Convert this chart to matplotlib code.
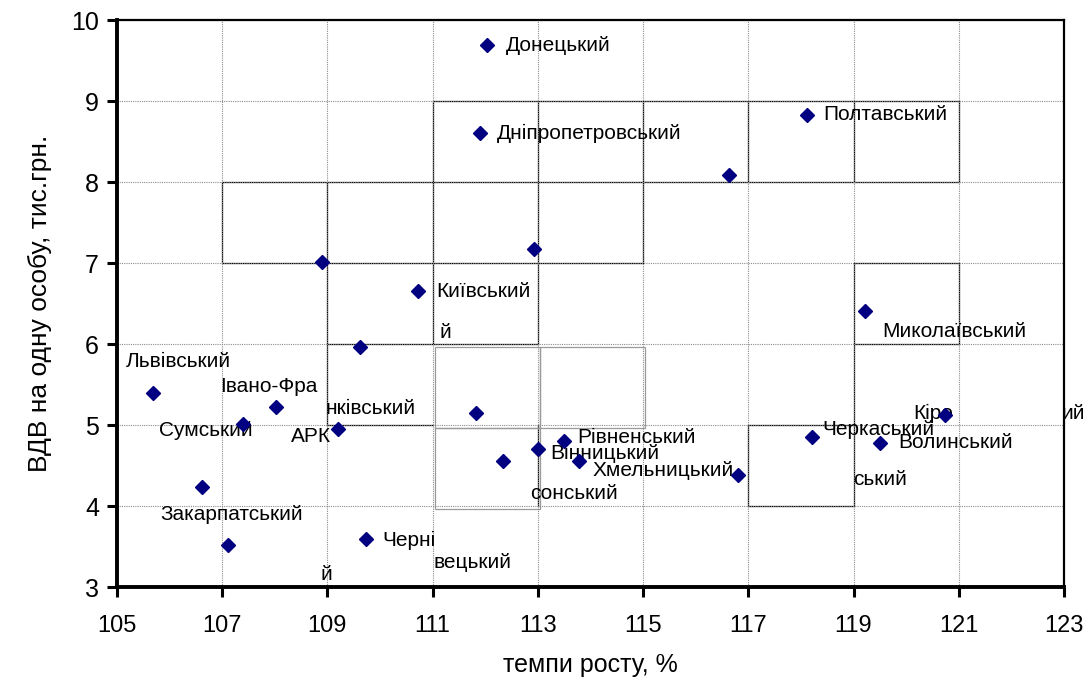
import matplotlib
matplotlib.use("Agg")
import matplotlib.pyplot as plt

plt.rcParams["font.family"] = ["Liberation Sans", "DejaVu Sans"]

# growth rate, % (x) and GRP per person, thousand UAH (y)
growth = [112.04, 111.91, 118.11, 116.63, 112.93, 108.90, 110.73, 109.62,
          119.21, 105.68, 108.03, 107.40, 109.20, 111.83, 120.73, 118.22,
          119.50, 113.50, 113.01, 112.33, 113.79, 116.81, 106.62, 107.11,
          109.74]
grp = [9.69, 8.60, 8.83, 8.09, 7.17, 7.01, 6.65, 5.96,
       6.41, 5.40, 5.22, 5.01, 4.95, 5.15, 5.12, 4.85,
       4.78, 4.80, 4.70, 4.56, 4.56, 4.38, 4.23, 3.52,
       3.59]

# label fragments as they appear in the chart: (text, x, y)
label_text = ["Донецький", "Дніпропетровський", "Полтавський", "Київський", "й",
              "Миколаївський", "Львівський", "Івано-Фра", "нківський", "Сумський",
              "АРК", "Рівненський", "Вінницький", "Хмельницький", "сонський",
              "Черкаський", "Волинський", "ський", "Кіро", "ий",
              "Закарпатський", "Черні", "вецький", "й"]
label_x = [112.40, 112.22, 118.42, 111.06, 111.14,
           119.54, 105.17, 106.96, 108.97, 105.80,
           108.31, 113.75, 113.23, 114.03, 112.85,
           118.40, 119.85, 118.99, 120.13, 122.95,
           105.82, 110.04, 111.01, 108.86]
label_y = [9.69, 8.60, 8.83, 6.65, 6.14,
           6.15, 5.79, 5.47, 5.21, 4.93,
           4.86, 4.85, 4.65, 4.44, 4.16,
           4.94, 4.78, 4.33, 5.14, 5.14,
           3.90, 3.57, 3.30, 3.16]

# solid box outlines drawn over the grid
h_lines = [(9, 111, 121), (8, 107, 121), (7, 107, 115), (7, 119, 121),
           (6, 109, 113), (6, 119, 121), (5, 109, 111), (5, 117, 119),
           (4, 117, 119)]
v_lines = [(107, 7, 8), (109, 5, 8), (111, 6, 9), (113, 6, 9), (113, 4, 5),
           (115, 7, 9), (117, 8, 9), (117, 4, 5), (119, 8, 9), (119, 4, 7),
           (121, 8, 9), (121, 6, 7)]
# light grey boxes (slightly offset)
light_boxes = [(111, 5, 2, 1), (113, 5, 2, 1), (111, 4, 2, 1)]

fig = plt.figure(figsize=(10.89, 6.86), dpi=100)
ax = fig.add_axes([0.1074, 0.1443, 0.8696, 0.8265])

ax.set_xlim(105, 123)
ax.set_ylim(3, 10)
ax.set_xticks(range(105, 124, 2))
ax.set_yticks(range(3, 11))

ax.grid(True, color="#8c8c8c", linestyle=(0, (1, 1)), linewidth=0.8, zorder=0)

for y, x0, x1 in h_lines:
    ax.plot([x0, x1], [y, y], color="black", linewidth=0.9, zorder=1)
for x, y0, y1 in v_lines:
    ax.plot([x, x], [y0, y1], color="black", linewidth=0.9, zorder=1)
for x0, y0, w, h in light_boxes:
    ax.add_patch(plt.Rectangle((x0 + 0.04, y0 - 0.04), w, h, fill=False,
                               edgecolor="#9a9a9a", linewidth=0.9, zorder=1))

ax.plot(growth, grp, linestyle="none", marker="D", markersize=7,
        color="#000080", zorder=4)

for t, x, y in zip(label_text, label_x, label_y):
    ax.text(x, y, t, ha="left", va="center", fontsize=15, color="black",
            zorder=3, clip_on=False)

for side in ["left", "bottom"]:
    ax.spines[side].set_linewidth(2.8)
for side in ["top", "right"]:
    ax.spines[side].set_linewidth(1.6)

ax.tick_params(axis="both", direction="out", length=7, width=2.2, pad=6)
ax.tick_params(axis="x", labelsize=17, pad=13)
ax.tick_params(axis="y", labelsize=18)

ax.set_xlabel("темпи росту, %", fontsize=18, labelpad=12)
ax.set_ylabel("ВДВ на одну особу, тис.грн.", fontsize=19, labelpad=14)

fig.savefig("out.png", dpi=100)
